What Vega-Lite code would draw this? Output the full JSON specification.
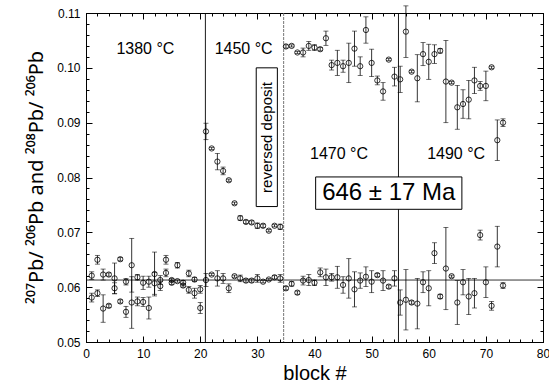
{
  "$schema": "https://vega.github.io/schema/vega-lite/v6.json",
  "width": 457,
  "height": 329,
  "autosize": {"type": "none"},
  "padding": {"left": 86, "top": 13, "right": 6, "bottom": 46},
  "background": "white",
  "config": {
    "view": {"stroke": "black", "strokeWidth": 1},
    "font": "Liberation Sans",
    "axis": {"domain": false, "grid": false, "tickColor": "black", "tickWidth": 1, "labelColor": "black", "titleColor": "black", "labelFont": "Liberation Sans", "titleFont": "Liberation Sans", "titleFontWeight": 400, "labelFlush": false, "labelOverlap": false}
  },
  "datasets": {
    "pts": [
      {"b": 1, "r": 0.0621, "e": 0.0007, "s": "A"}, {"b": 1, "r": 0.0581, "e": 0.0008, "s": "B"},
      {"b": 2, "r": 0.0650, "e": 0.0008, "s": "A"}, {"b": 2, "r": 0.0589, "e": 0.0006, "s": "B"},
      {"b": 3, "r": 0.0623, "e": 0.0010, "s": "A"}, {"b": 3, "r": 0.0561, "e": 0.0025, "s": "B"},
      {"b": 4, "r": 0.0623, "e": 0.0003, "s": "A"}, {"b": 4, "r": 0.0566, "e": 0.0003, "s": "B"},
      {"b": 5, "r": 0.0616, "e": 0.0028, "s": "A"}, {"b": 5, "r": 0.0598, "e": 0.0010, "s": "B"},
      {"b": 6, "r": 0.0651, "e": 0.0003, "s": "A"}, {"b": 6, "r": 0.0574, "e": 0.0003, "s": "B"},
      {"b": 7, "r": 0.0610, "e": 0.0006, "s": "A"}, {"b": 7, "r": 0.0555, "e": 0.0010, "s": "B"},
      {"b": 8, "r": 0.0640, "e": 0.0049, "s": "A"}, {"b": 8, "r": 0.0572, "e": 0.0047, "s": "B"},
      {"b": 9, "r": 0.0618, "e": 0.0005, "s": "A"}, {"b": 9, "r": 0.0574, "e": 0.0008, "s": "B"},
      {"b": 10, "r": 0.0608, "e": 0.0012, "s": "A"}, {"b": 10, "r": 0.0573, "e": 0.0008, "s": "B"},
      {"b": 11, "r": 0.0610, "e": 0.0010, "s": "A"}, {"b": 11, "r": 0.0562, "e": 0.0020, "s": "B"},
      {"b": 12, "r": 0.0624, "e": 0.0040, "s": "A"}, {"b": 12, "r": 0.0607, "e": 0.0020, "s": "B"},
      {"b": 13, "r": 0.0613, "e": 0.0008, "s": "A"}, {"b": 13, "r": 0.0602, "e": 0.0008, "s": "B"},
      {"b": 14, "r": 0.0650, "e": 0.0008, "s": "A"}, {"b": 14, "r": 0.0626, "e": 0.0007, "s": "B"},
      {"b": 15, "r": 0.0613, "e": 0.0003, "s": "A"}, {"b": 15, "r": 0.0608, "e": 0.0003, "s": "B"},
      {"b": 16, "r": 0.0640, "e": 0.0005, "s": "A"}, {"b": 16, "r": 0.0611, "e": 0.0002, "s": "B"},
      {"b": 17, "r": 0.0608, "e": 0.0004, "s": "A"}, {"b": 17, "r": 0.0603, "e": 0.0003, "s": "B"},
      {"b": 18, "r": 0.0625, "e": 0.0006, "s": "A"}, {"b": 18, "r": 0.0595, "e": 0.0006, "s": "B"},
      {"b": 19, "r": 0.0614, "e": 0.0004, "s": "A"}, {"b": 19, "r": 0.0589, "e": 0.0009, "s": "B"},
      {"b": 20, "r": 0.0596, "e": 0.0007, "s": "A"}, {"b": 20, "r": 0.0562, "e": 0.0010, "s": "B"},
      {"b": 21, "r": 0.0613, "e": 0.0012, "s": "207"}, {"b": 22, "r": 0.0623, "e": 0.0002, "s": "207"},
      {"b": 23, "r": 0.0616, "e": 0.0014, "s": "207"}, {"b": 24, "r": 0.0616, "e": 0.0009, "s": "207"},
      {"b": 25, "r": 0.0598, "e": 0.0008, "s": "207"}, {"b": 26, "r": 0.0620, "e": 0.0002, "s": "207"},
      {"b": 27, "r": 0.0616, "e": 0.0006, "s": "207"}, {"b": 28, "r": 0.0612, "e": 0.0003, "s": "207"},
      {"b": 29, "r": 0.0612, "e": 0.0003, "s": "207"}, {"b": 30, "r": 0.0616, "e": 0.0007, "s": "207"},
      {"b": 31, "r": 0.0610, "e": 0.0002, "s": "207"}, {"b": 32, "r": 0.0614, "e": 0.0002, "s": "207"},
      {"b": 33, "r": 0.0618, "e": 0.0003, "s": "207"}, {"b": 34, "r": 0.0616, "e": 0.0007, "s": "207"},
      {"b": 35, "r": 0.0598, "e": 0.0003, "s": "207"}, {"b": 36, "r": 0.0606, "e": 0.0004, "s": "207"},
      {"b": 37, "r": 0.0590, "e": 0.0003, "s": "207"}, {"b": 38, "r": 0.0612, "e": 0.0008, "s": "207"},
      {"b": 39, "r": 0.0613, "e": 0.0010, "s": "207"}, {"b": 40, "r": 0.0608, "e": 0.0005, "s": "207"},
      {"b": 41, "r": 0.0627, "e": 0.0008, "s": "207"}, {"b": 42, "r": 0.0618, "e": 0.0015, "s": "207"},
      {"b": 43, "r": 0.0618, "e": 0.0007, "s": "207"}, {"b": 44, "r": 0.0618, "e": 0.0020, "s": "207"},
      {"b": 45, "r": 0.0604, "e": 0.0015, "s": "207"}, {"b": 46, "r": 0.0616, "e": 0.0036, "s": "207"},
      {"b": 47, "r": 0.0596, "e": 0.0032, "s": "207"}, {"b": 48, "r": 0.0612, "e": 0.0014, "s": "207"},
      {"b": 49, "r": 0.0619, "e": 0.0018, "s": "207"}, {"b": 50, "r": 0.0610, "e": 0.0020, "s": "207"},
      {"b": 51, "r": 0.0622, "e": 0.0003, "s": "207"}, {"b": 52, "r": 0.0612, "e": 0.0018, "s": "207"},
      {"b": 53, "r": 0.0601, "e": 0.0003, "s": "207"}, {"b": 54, "r": 0.0616, "e": 0.0014, "s": "207"},
      {"b": 55, "r": 0.0572, "e": 0.0023, "s": "207"}, {"b": 56, "r": 0.0577, "e": 0.0055, "s": "207"},
      {"b": 57, "r": 0.0572, "e": 0.0003, "s": "207"}, {"b": 58, "r": 0.0570, "e": 0.0046, "s": "207"},
      {"b": 59, "r": 0.0609, "e": 0.0019, "s": "207"}, {"b": 60, "r": 0.0598, "e": 0.0032, "s": "207"},
      {"b": 61, "r": 0.0662, "e": 0.0019, "s": "207"}, {"b": 62, "r": 0.0583, "e": 0.0004, "s": "207"},
      {"b": 63, "r": 0.0634, "e": 0.0075, "s": "207"}, {"b": 64, "r": 0.0620, "e": 0.0002, "s": "207"},
      {"b": 65, "r": 0.0572, "e": 0.0040, "s": "207"}, {"b": 66, "r": 0.0609, "e": 0.0023, "s": "207"},
      {"b": 67, "r": 0.0583, "e": 0.0033, "s": "207"}, {"b": 68, "r": 0.0589, "e": 0.0027, "s": "207"},
      {"b": 69, "r": 0.0695, "e": 0.0009, "s": "207"}, {"b": 70, "r": 0.0609, "e": 0.0028, "s": "207"},
      {"b": 71, "r": 0.0566, "e": 0.0008, "s": "207"}, {"b": 72, "r": 0.0674, "e": 0.0037, "s": "207"},
      {"b": 73, "r": 0.0603, "e": 0.0005, "s": "207"},
      {"b": 21, "r": 0.0884, "e": 0.0015, "s": "208"}, {"b": 22, "r": 0.0853, "e": 0.0002, "s": "208"},
      {"b": 23, "r": 0.0829, "e": 0.0015, "s": "208"}, {"b": 24, "r": 0.0812, "e": 0.0007, "s": "208"},
      {"b": 25, "r": 0.0795, "e": 0.0002, "s": "208"}, {"b": 26, "r": 0.0753, "e": 0.0002, "s": "208"},
      {"b": 27, "r": 0.0726, "e": 0.0004, "s": "208"}, {"b": 28, "r": 0.0719, "e": 0.0003, "s": "208"},
      {"b": 29, "r": 0.0718, "e": 0.0003, "s": "208"}, {"b": 30, "r": 0.0712, "e": 0.0005, "s": "208"},
      {"b": 31, "r": 0.0712, "e": 0.0003, "s": "208"}, {"b": 32, "r": 0.0703, "e": 0.0002, "s": "208"},
      {"b": 33, "r": 0.0712, "e": 0.0002, "s": "208"}, {"b": 34, "r": 0.0710, "e": 0.0005, "s": "208"},
      {"b": 35, "r": 0.1039, "e": 0.0003, "s": "208"}, {"b": 36, "r": 0.1040, "e": 0.0002, "s": "208"},
      {"b": 37, "r": 0.1028, "e": 0.0002, "s": "208"}, {"b": 38, "r": 0.1028, "e": 0.0008, "s": "208"},
      {"b": 39, "r": 0.1040, "e": 0.0008, "s": "208"}, {"b": 40, "r": 0.1037, "e": 0.0005, "s": "208"},
      {"b": 41, "r": 0.1034, "e": 0.0003, "s": "208"}, {"b": 42, "r": 0.1054, "e": 0.0013, "s": "208"},
      {"b": 43, "r": 0.1005, "e": 0.0009, "s": "208"}, {"b": 44, "r": 0.1009, "e": 0.0023, "s": "208"},
      {"b": 45, "r": 0.1003, "e": 0.0011, "s": "208"}, {"b": 46, "r": 0.1009, "e": 0.0036, "s": "208"},
      {"b": 47, "r": 0.1035, "e": 0.0032, "s": "208"}, {"b": 48, "r": 0.1003, "e": 0.0017, "s": "208"},
      {"b": 49, "r": 0.1069, "e": 0.0024, "s": "208"}, {"b": 50, "r": 0.1009, "e": 0.0025, "s": "208"},
      {"b": 51, "r": 0.0977, "e": 0.0008, "s": "208"}, {"b": 52, "r": 0.0957, "e": 0.0016, "s": "208"},
      {"b": 53, "r": 0.1015, "e": 0.0002, "s": "208"}, {"b": 54, "r": 0.0984, "e": 0.0017, "s": "208"},
      {"b": 55, "r": 0.0979, "e": 0.0024, "s": "208"}, {"b": 56, "r": 0.1066, "e": 0.0047, "s": "208"},
      {"b": 57, "r": 0.0993, "e": 0.0002, "s": "208"}, {"b": 58, "r": 0.0981, "e": 0.0043, "s": "208"},
      {"b": 59, "r": 0.1025, "e": 0.0021, "s": "208"}, {"b": 60, "r": 0.1011, "e": 0.0032, "s": "208"},
      {"b": 61, "r": 0.1025, "e": 0.0017, "s": "208"}, {"b": 62, "r": 0.1031, "e": 0.0004, "s": "208"},
      {"b": 63, "r": 0.0975, "e": 0.0075, "s": "208"}, {"b": 64, "r": 0.0973, "e": 0.0002, "s": "208"},
      {"b": 65, "r": 0.0928, "e": 0.0040, "s": "208"}, {"b": 66, "r": 0.0934, "e": 0.0026, "s": "208"},
      {"b": 67, "r": 0.0942, "e": 0.0035, "s": "208"}, {"b": 68, "r": 0.0977, "e": 0.0024, "s": "208"},
      {"b": 69, "r": 0.0967, "e": 0.0008, "s": "208"}, {"b": 70, "r": 0.0967, "e": 0.0027, "s": "208"},
      {"b": 71, "r": 0.1001, "e": 0.0002, "s": "208"}, {"b": 72, "r": 0.0868, "e": 0.0037, "s": "208"},
      {"b": 73, "r": 0.0900, "e": 0.0007, "s": "208"}
    ],
    "ref": [{"v": 0.0613}],
    "bounds": [{"b": 20.9}, {"b": 34.6}, {"b": 54.7}],
    "temps": [
      {"x": 10.4, "y": 0.1034, "t": "1380 °C"},
      {"x": 27.6, "y": 0.1034, "t": "1450 °C"},
      {"x": 44.3, "y": 0.0843, "t": "1470 °C"},
      {"x": 64.8, "y": 0.0843, "t": "1490 °C"}
    ],
    "boxes": [
      {"x1": 29.8, "x2": 33.5, "y1": 0.1000, "y2": 0.0747},
      {"x1": 40.2, "x2": 65.8, "y1": 0.0801, "y2": 0.0742}
    ],
    "deposit": [{"x": 31.65, "y": 0.0873, "t": "reversed deposit"}],
    "age": [{"x": 53.0, "y": 0.0772, "t": "646 ± 17 Ma"}]
  },
  "resolve": {"axis": {"x": "independent", "y": "independent"}},
  "layer": [
    {
      "data": {"name": "ref"},
      "mark": {"type": "rule", "color": "black", "strokeWidth": 0.8},
      "encoding": {
        "y": {"field": "v", "type": "quantitative", "scale": {"domain": [0.05, 0.11], "nice": false, "zero": false}, "axis": null}
      }
    },
    {
      "data": {"name": "bounds"},
      "transform": [{"filter": "datum.b !== 34.6"}],
      "mark": {"type": "rule", "color": "black", "strokeWidth": 0.9},
      "encoding": {
        "x": {"field": "b", "type": "quantitative", "scale": {"domain": [0, 80], "nice": false, "zero": false}, "axis": null}
      }
    },
    {
      "data": {"name": "bounds"},
      "transform": [{"filter": "datum.b === 34.6"}],
      "mark": {"type": "rule", "color": "#666666", "strokeWidth": 0.9, "strokeDash": [3, 1]},
      "encoding": {
        "x": {"field": "b", "type": "quantitative", "scale": {"domain": [0, 80], "nice": false, "zero": false}, "axis": null}
      }
    },
    {
      "data": {"name": "boxes"},
      "mark": {"type": "rect", "fill": "white", "stroke": "black", "strokeWidth": 1},
      "encoding": {
        "x": {"field": "x1", "type": "quantitative", "scale": {"domain": [0, 80], "nice": false, "zero": false},
              "axis": {"orient": "top", "values": [0, 10, 20, 30, 40, 50, 60, 70, 80], "tickSize": -6, "labels": false, "title": null}},
        "x2": {"field": "x2"},
        "y": {"field": "y1", "type": "quantitative", "scale": {"domain": [0.05, 0.11], "nice": false, "zero": false},
              "axis": {"orient": "right", "values": [0.05, 0.06, 0.07, 0.08, 0.09, 0.1, 0.11], "tickSize": -6, "labels": false, "title": null}},
        "y2": {"field": "y2"}
      }
    },
    {
      "data": {"name": "pts"},
      "mark": {"type": "errorbar", "ticks": {"size": 5, "color": "black", "thickness": 0.8}, "rule": {"color": "black", "strokeWidth": 0.8}},
      "encoding": {
        "x": {"field": "b", "type": "quantitative", "scale": {"domain": [0, 80], "nice": false, "zero": false}, "axis": null},
        "y": {"field": "r", "type": "quantitative", "scale": {"domain": [0.05, 0.11], "nice": false, "zero": false}, "axis": null},
        "yError": {"field": "e"}
      }
    },
    {
      "data": {"name": "pts"},
      "mark": {"type": "point", "shape": "circle", "filled": false, "color": "black", "size": 28, "strokeWidth": 0.8, "opacity": 1},
      "encoding": {
        "x": {"field": "b", "type": "quantitative", "scale": {"domain": [0, 80], "nice": false, "zero": false},
              "axis": {"orient": "bottom", "values": [0, 10, 20, 30, 40, 50, 60, 70, 80], "format": "d", "tickSize": -6, "labelPadding": 12, "labelFontSize": 12, "title": "block #", "titleFontSize": 20, "titleFontWeight": 400, "titlePadding": 4}},
        "y": {"field": "r", "type": "quantitative", "scale": {"domain": [0.05, 0.11], "nice": false, "zero": false},
              "axis": {"orient": "left", "values": [0.05, 0.06, 0.07, 0.08, 0.09, 0.1, 0.11], "format": ".2f", "tickSize": -6, "labelPadding": 12, "labelFontSize": 12, "title": "²⁰⁷Pb/ ²⁰⁶Pb and  ²⁰⁸Pb/ ²⁰⁶Pb", "titleFont": "Noto Sans", "titleFontSize": 20, "titleFontWeight": 400, "titleX": -44, "titleY": 164, "titleAngle": 270, "titleAlign": "center", "titleBaseline": "alphabetic"}}
      }
    },
    {
      "data": {"name": "temps"},
      "mark": {"type": "text", "fontSize": 16, "font": "Liberation Sans", "color": "black", "align": "center", "baseline": "middle"},
      "encoding": {
        "x": {"field": "x", "type": "quantitative", "scale": {"domain": [0, 80], "nice": false, "zero": false},
              "axis": {"orient": "bottom", "values": [0, 2, 4, 6, 8, 10, 12, 14, 16, 18, 20, 22, 24, 26, 28, 30, 32, 34, 36, 38, 40, 42, 44, 46, 48, 50, 52, 54, 56, 58, 60, 62, 64, 66, 68, 70, 72, 74, 76, 78, 80], "tickSize": -3, "labels": false, "title": null}},
        "y": {"field": "y", "type": "quantitative", "scale": {"domain": [0.05, 0.11], "nice": false, "zero": false},
              "axis": {"orient": "left", "values": [0.05, 0.052, 0.054, 0.056, 0.058, 0.06, 0.062, 0.064, 0.066, 0.068, 0.07, 0.072, 0.074, 0.076, 0.078, 0.08, 0.082, 0.084, 0.086, 0.088, 0.09, 0.092, 0.094, 0.096, 0.098, 0.1, 0.102, 0.104, 0.106, 0.108, 0.11], "tickSize": -3, "labels": false, "title": null}},
        "text": {"field": "t"}
      }
    },
    {
      "data": {"name": "deposit"},
      "mark": {"type": "text", "fontSize": 15, "font": "Liberation Sans", "color": "black", "align": "center", "baseline": "middle", "angle": 270},
      "encoding": {
        "x": {"field": "x", "type": "quantitative", "scale": {"domain": [0, 80], "nice": false, "zero": false},
              "axis": {"orient": "top", "values": [0, 2, 4, 6, 8, 10, 12, 14, 16, 18, 20, 22, 24, 26, 28, 30, 32, 34, 36, 38, 40, 42, 44, 46, 48, 50, 52, 54, 56, 58, 60, 62, 64, 66, 68, 70, 72, 74, 76, 78, 80], "tickSize": -3, "labels": false, "title": null}},
        "y": {"field": "y", "type": "quantitative", "scale": {"domain": [0.05, 0.11], "nice": false, "zero": false},
              "axis": {"orient": "right", "values": [0.05, 0.052, 0.054, 0.056, 0.058, 0.06, 0.062, 0.064, 0.066, 0.068, 0.07, 0.072, 0.074, 0.076, 0.078, 0.08, 0.082, 0.084, 0.086, 0.088, 0.09, 0.092, 0.094, 0.096, 0.098, 0.1, 0.102, 0.104, 0.106, 0.108, 0.11], "tickSize": -3, "labels": false, "title": null}},
        "text": {"field": "t"}
      }
    },
    {
      "data": {"name": "age"},
      "mark": {"type": "text", "fontSize": 24, "font": "Liberation Sans", "color": "black", "align": "center", "baseline": "middle"},
      "encoding": {
        "x": {"field": "x", "type": "quantitative", "scale": {"domain": [0, 80], "nice": false, "zero": false}, "axis": null},
        "y": {"field": "y", "type": "quantitative", "scale": {"domain": [0.05, 0.11], "nice": false, "zero": false}, "axis": null},
        "text": {"field": "t"}
      }
    }
  ]
}
